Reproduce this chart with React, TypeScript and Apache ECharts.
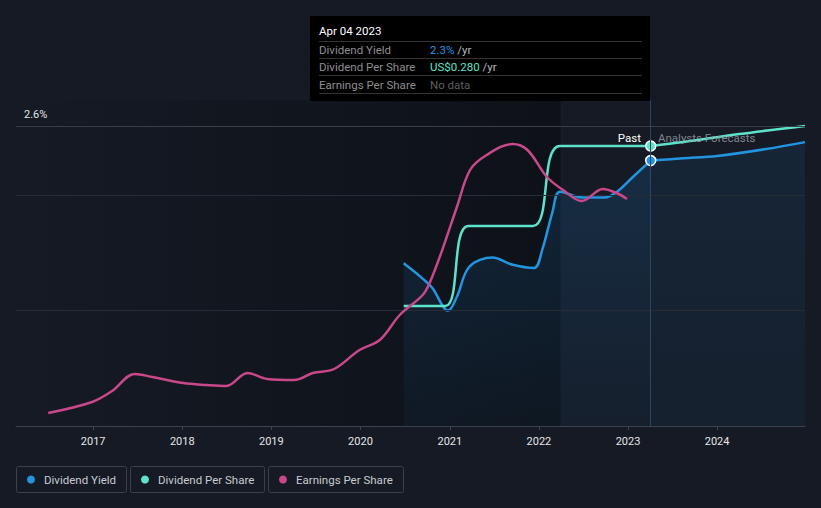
import React, { useEffect, useRef } from 'react';
import * as echarts from 'echarts';

// ---------- data ----------
const xMin = '2016-02-20';
const xMax = '2024-12-26';
const todayDate = '2023-04-04';
const pastYearStart = '2022-03-31';

// Dividend Yield (%)
const yieldPast: [string, number][] = [
  ['2020-06-26', 1.41], ['2020-09-05', 1.29], ['2020-10-20', 1.2], ['2020-12-25', 1.0],
  ['2021-01-30', 1.12], ['2021-03-22', 1.38], ['2021-06-25', 1.46], ['2021-09-12', 1.4],
  ['2021-12-12', 1.37], ['2022-01-15', 1.53], ['2022-02-25', 1.85], ['2022-03-28', 2.03],
  ['2022-07-01', 1.98], ['2022-09-27', 1.98], ['2022-11-17', 2.03], ['2023-01-22', 2.16],
  ['2023-04-04', 2.3],
];
const yieldForecast: [string, number][] = [
  ['2023-04-04', 2.3], ['2023-08-15', 2.32], ['2024-01-01', 2.34], ['2024-07-20', 2.4], ['2024-12-26', 2.46],
];

// Dividend Per Share (US$)
const dpsPast: [string, number][] = [
  ['2020-06-26', 0.12], ['2020-12-14', 0.12], ['2021-03-18', 0.2], ['2021-12-08', 0.2],
  ['2022-03-28', 0.28], ['2023-04-04', 0.28],
];
const dpsForecast: [string, number][] = [
  ['2023-04-04', 0.28], ['2023-08-15', 0.284], ['2024-04-01', 0.292], ['2024-12-26', 0.3],
];

// Earnings Per Share (US$)
const epsPast: [string, number][] = [
  ['2016-07-01', 0.13], ['2016-12-28', 0.24], ['2017-03-20', 0.35], ['2017-06-20', 0.52],
  ['2017-09-01', 0.49], ['2018-01-05', 0.43], ['2018-04-12', 0.41], ['2018-07-01', 0.4],
  ['2018-09-25', 0.53], ['2018-12-15', 0.47], ['2019-04-05', 0.46], ['2019-06-20', 0.53],
  ['2019-09-15', 0.57], ['2019-12-28', 0.76], ['2020-03-20', 0.86], ['2020-06-10', 1.11],
  ['2020-09-12', 1.31], ['2020-10-12', 1.44], ['2020-12-01', 1.76], ['2021-01-30', 2.19],
  ['2021-03-25', 2.56], ['2021-06-01', 2.71], ['2021-09-15', 2.82], ['2021-11-15', 2.76],
  ['2022-02-03', 2.49], ['2022-04-10', 2.36], ['2022-06-25', 2.25], ['2022-09-20', 2.37],
  ['2022-11-15', 2.33], ['2022-12-28', 2.27],
];

const yieldGridLines = [1, 2, 2.6];
const yieldTickLabels = ['0%', '2.6%'];

const legendItems = ['Dividend Yield', 'Dividend Per Share', 'Earnings Per Share'];

const tooltipTitle = 'Apr 04 2023';
const tooltipRows = [
  { label: 'Dividend Yield', value: '2.3%', unit: ' /yr' },
  { label: 'Dividend Per Share', value: 'US$0.280', unit: ' /yr' },
  { label: 'Earnings Per Share', value: 'No data', unit: '' },
];

// ---------- styles ----------
const BG = '#151a24';
const BLUE = '#2394e0';
const TEAL = '#5de3cb';
const PINK = '#c8488a';
const FONT = 'Roboto, "Noto Sans", sans-serif';
const SMOOTH = 0.35;

export default function App() {
  const ref = useRef<HTMLDivElement>(null);

  useEffect(() => {
    document.body.style.margin = '0';
    document.body.style.background = BG;
    if (!ref.current) return;
    const chart = echarts.init(ref.current, null, { renderer: 'svg' });

    const grad = (a: number, b: number) =>
      new echarts.graphic.LinearGradient(0, 0, 0, 1, [
        { offset: 0, color: `rgba(33,150,243,${a})` },
        { offset: 1, color: `rgba(33,150,243,${b})` },
      ]);

    const marker = (v: [string, number], color: string) => ({
      value: v,
      symbol: 'circle',
      symbolSize: 10,
      itemStyle: { color, borderColor: '#ffffff', borderWidth: 1.5 },
    });

    const legendColors = [BLUE, TEAL, PINK];
    const legendBoxes = [
      { x: 16, w: 110 },
      { x: 130, w: 134 },
      { x: 268, w: 135 },
    ];
    const legendGraphics: any[] = [];
    legendItems.forEach((name, i) => {
      const b = legendBoxes[i];
      legendGraphics.push({
        type: 'rect',
        shape: { x: b.x + 0.5, y: 466.5, width: b.w, height: 26, r: 2 },
        style: { fill: 'none', stroke: '#3b414b', lineWidth: 1 },
      });
      legendGraphics.push({
        type: 'circle',
        shape: { cx: b.x + 15, cy: 479.5, r: 4 },
        style: { fill: legendColors[i] },
      });
      legendGraphics.push({
        type: 'text',
        x: b.x + 28,
        y: 479.5,
        style: { text: name, fill: '#c9ccd1', font: `11.5px ${FONT}`, verticalAlign: 'middle' },
      });
    });

    const tipGraphics: any[] = [
      {
        type: 'rect',
        shape: { x: 310, y: 16, width: 340, height: 85 },
        style: { fill: '#000000' },
      },
      {
        type: 'text',
        x: 319,
        y: 31,
        style: { text: tooltipTitle, fill: '#ffffff', font: `11.5px ${FONT}`, verticalAlign: 'middle' },
      },
    ];
    [41.5, 58.5, 75.5, 93.5].forEach((y) => {
      tipGraphics.push({
        type: 'line',
        shape: { x1: 319, y1: y, x2: 642, y2: y },
        style: { stroke: '#333333', lineWidth: 1 },
      });
    });
    const valueColors = [BLUE, TEAL, '#5e5e5e'];
    tooltipRows.forEach((r, i) => {
      const y = [49.5, 67, 84.5][i];
      tipGraphics.push({
        type: 'text',
        x: 319,
        y,
        style: { text: r.label, fill: '#8e8e8e', font: `11.5px ${FONT}`, verticalAlign: 'middle' },
      });
      tipGraphics.push({
        type: 'text',
        x: 430,
        y,
        style: {
          text: `{v|${r.value}}{u|${r.unit}}`,
          verticalAlign: 'middle',
          rich: {
            v: { fill: valueColors[i], font: `11.5px ${FONT}` },
            u: { fill: '#b8b8b8', font: `11.5px ${FONT}` },
          },
        },
      });
    });

    const lineSeries = (name: string, data: any[], yAxisIndex: number, color: string, z: number, extra: any = {}) => ({
      name,
      type: 'line',
      z,
      yAxisIndex,
      data,
      smooth: SMOOTH,
      symbol: 'none',
      showSymbol: true,
      lineStyle: { color, width: 2.5 },
      itemStyle: { color },
      ...extra,
    });

    const option: any = {
      animation: false,
      backgroundColor: BG,
      textStyle: { fontFamily: FONT },
      grid: { left: 16, right: 16, top: 100, bottom: 82 },
      xAxis: {
        type: 'time',
        min: xMin,
        max: xMax,
        splitNumber: 9,
        axisLine: { lineStyle: { color: '#3d434d', width: 1 } },
        axisTick: { show: true, length: 4, lineStyle: { color: '#3d434d' } },
        axisLabel: {
          color: '#e6e6e6',
          fontSize: 11,
          margin: 10,
          formatter: (val: number) => {
            const d = new Date(val);
            return d.getMonth() === 0 && d.getDate() === 1 ? String(d.getFullYear()) : '';
          },
        },
        splitLine: { show: false },
      },
      yAxis: [
        { type: 'value', min: 0, max: 2.825, show: false },
        { type: 'value', min: 0, max: 0.326, show: false },
        { type: 'value', min: 0, max: 3.26, show: false },
      ],
      graphic: [
        ...legendGraphics,
        {
          type: 'text',
          x: 641,
          y: 138,
          style: { text: 'Past', fill: '#ffffff', font: `11.5px ${FONT}`, align: 'right', verticalAlign: 'middle' },
          z: 50,
        },
        {
          type: 'text',
          x: 658,
          y: 138,
          style: { text: 'Analysts Forecasts', fill: 'rgba(150,155,165,0.85)', font: `11.5px ${FONT}`, verticalAlign: 'middle' },
          z: 50,
        },
        ...tipGraphics.map((g) => ({ ...g, z: 100 })),
      ],
      series: [
        {
          name: 'bg',
          type: 'line',
          z: 1,
          yAxisIndex: 0,
          data: [[xMin, 0]],
          symbol: 'none',
          lineStyle: { width: 0 },
          silent: true,
          markArea: {
            silent: true,
            itemStyle: {
              color: new echarts.graphic.LinearGradient(0, 0, 1, 0, [
                { offset: 0, color: 'rgba(6,8,12,0)' },
                { offset: 1, color: 'rgba(6,8,12,0.5)' },
              ]),
            },
            data: [[{ xAxis: xMin }, { xAxis: pastYearStart }]],
          },
          markLine: {
            silent: true,
            symbol: ['none', 'none'],
            label: { show: false },
            data: [
              ...yieldGridLines.map((v) => ({
                yAxis: v,
                lineStyle: { color: v === 2.6 ? '#393e47' : '#272d37', width: 1, type: 'solid' },
                label:
                  v === 2.6
                    ? {
                        show: true,
                        position: 'insideStartTop',
                        formatter: yieldTickLabels[1],
                        color: '#e6e6e6',
                        fontSize: 11,
                        distance: [8, 6],
                      }
                    : { show: false },
              })),
              {
                yAxis: 0,
                lineStyle: { opacity: 0 },
                label: {
                  show: true,
                  position: 'insideStartTop',
                  formatter: yieldTickLabels[0],
                  color: '#e6e6e6',
                  fontSize: 11,
                  distance: [8, 6],
                },
              },
              {
                xAxis: todayDate,
                lineStyle: { color: '#2b4660', width: 1, type: 'solid' },
                label: { show: false },
              },
            ],
          },
        },
        lineSeries('Dividend Yield', yieldPast, 0, BLUE, 3, {
          areaStyle: { color: grad(0.22, 0.06), origin: 'start' },
        }),
        lineSeries('Dividend Yield Forecast', [marker(yieldForecast[0], BLUE), ...yieldForecast.slice(1)], 0, BLUE, 3, {
          areaStyle: { color: grad(0.13, 0.07), origin: 'start' },
        }),
        lineSeries('Dividend Per Share', dpsPast, 1, TEAL, 4),
        lineSeries('Dividend Per Share Forecast', [marker(dpsForecast[0], TEAL), ...dpsForecast.slice(1)], 1, TEAL, 4),
        lineSeries('Earnings Per Share', epsPast, 2, PINK, 5),
      ],
    };

    chart.setOption(option);
    return () => chart.dispose();
  }, []);

  return <div ref={ref} style={{ width: 821, height: 508 }} />;
}
